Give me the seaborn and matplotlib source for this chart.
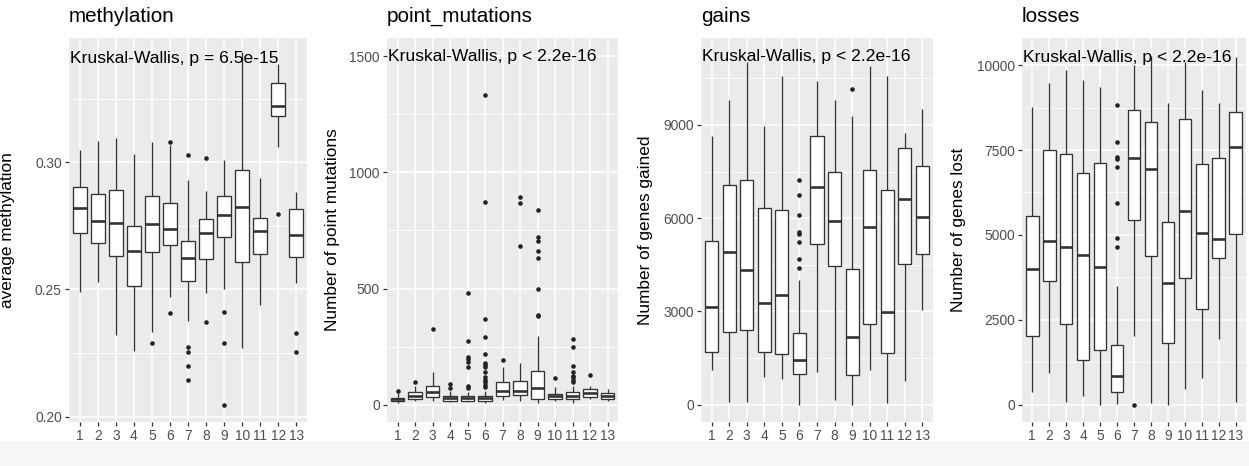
import numpy as np
import pandas as pd
import matplotlib
matplotlib.use("Agg")
import matplotlib.pyplot as plt
import matplotlib.transforms as mtransforms
from matplotlib.patches import Rectangle
import seaborn as sns

plt.rcParams['font.family'] = ['Liberation Sans', 'DejaVu Sans']

clusters = [str(i) for i in range(1, 14)]

# ---------------- methylation ----------------
meth_low = [0.2491, 0.2530, 0.2320, 0.2258, 0.2333, 0.2471, 0.2377, 0.2484, 0.2500, 0.2271, 0.2438, 0.3060, 0.2526]
meth_q1 = [0.2720, 0.2681, 0.2633, 0.2513, 0.2648, 0.2675, 0.2533, 0.2620, 0.2706, 0.2607, 0.2638, 0.3183, 0.2628]
meth_med = [0.2821, 0.2769, 0.2760, 0.2651, 0.2757, 0.2739, 0.2622, 0.2723, 0.2794, 0.2823, 0.2730, 0.3220, 0.2712]
meth_q3 = [0.2902, 0.2875, 0.2891, 0.2749, 0.2867, 0.2839, 0.2692, 0.2775, 0.2867, 0.2971, 0.2780, 0.3312, 0.2815]
meth_high = [0.3049, 0.3085, 0.3094, 0.3033, 0.3081, 0.3068, 0.2930, 0.2886, 0.3009, 0.3434, 0.2936, 0.3384, 0.2881]
meth_out_cluster = ['5', '6', '6', '7', '7', '7', '7', '7', '8', '8', '9', '9', '9', '12', '13', '13']
meth_out_value = [0.2290, 0.3080, 0.2408, 0.3027, 0.2273, 0.2255, 0.2198, 0.2143,
                  0.3017, 0.2372, 0.2411, 0.2288, 0.2046, 0.2797, 0.2329, 0.2255]

# ---------------- point mutations ----------------
pm_low = [5, 14, 17, 10, 10, 6, 20, 17, 6, 17, 7, 24, 17]
pm_q1 = [15, 24, 34, 17, 17, 14, 39, 43, 24, 24, 24, 32, 24]
pm_med = [22, 39, 56, 27, 27, 27, 60, 60, 72, 36, 39, 49, 39]
pm_q3 = [30, 53, 78, 36, 36, 36, 96, 101, 144, 46, 53, 68, 49]
pm_high = [50, 80, 142, 60, 53, 60, 161, 178, 297, 75, 78, 78, 68]
pm_out_cluster = (['1', '2', '3', '4', '4'] + ['5'] * 8 + ['6'] * 14 + ['7'] + ['8'] * 3
                  + ['9'] * 8 + ['10'] + ['11'] * 8 + ['12'])
pm_out_value = ([60, 99, 326, 89, 72]
                + [481, 272, 207, 197, 185, 164, 82, 72]
                + [1335, 872, 369, 293, 218, 178, 171, 161, 139, 118, 106, 96, 86, 75]
                + [193]
                + [894, 868, 685]
                + [836, 721, 703, 661, 631, 499, 388, 381]
                + [115]
                + [283, 247, 168, 139, 125, 118, 106, 96]
                + [128])

# ---------------- gains ----------------
gain_low = [1129, 97, 97, 882, 828, 0, 1054, 151, 0, 1129, 43, 774, 3053]
gain_q1 = [1709, 2333, 2387, 1709, 1634, 989, 5160, 4461, 957, 2602, 1666, 4537, 4838]
gain_med = [3139, 4913, 4322, 3268, 3515, 1441, 7015, 5913, 2172, 5719, 2978, 6633, 6042]
gain_q3 = [5268, 7063, 7224, 6332, 6257, 2301, 8655, 7493, 4375, 7547, 6902, 8267, 7676]
gain_high = [8643, 9804, 11040, 8966, 10578, 4021, 10428, 9804, 9288, 10900, 10578, 8750, 9514]
gain_out_cluster = ['6'] * 8 + ['9']
gain_out_value = [7224, 6751, 6117, 5558, 5483, 5236, 4698, 4408, 10148]

# ---------------- losses ----------------
loss_low = [380, 927, 88, 263, 0, 20, 2020, 49, 0, 459, 800, 1922, 88]
loss_q1 = [2020, 3649, 2380, 1307, 1600, 380, 5434, 4380, 1805, 3727, 2819, 4312, 5024]
loss_med = [4000, 4829, 4654, 4410, 4068, 849, 7268, 6946, 3580, 5707, 5063, 4868, 7580]
loss_q3 = [5551, 7502, 7385, 6829, 7112, 1746, 8683, 8312, 5366, 8429, 7092, 7268, 8634]
loss_high = [8780, 9483, 9854, 9551, 9356, 3502, 10000, 10260, 8897, 10100, 9258, 8897, 10234]
loss_out_cluster = ['6'] * 8 + ['7']
loss_out_value = [8829, 7727, 7307, 7239, 6995, 5941, 4898, 4654, 0]

titles = ["methylation", "point_mutations", "gains", "losses"]
ylabels = ["average methylation", "Number of point mutations",
           "Number of genes gained", "Number of genes lost"]
stat_labels = ["Kruskal-Wallis, p = 6.5e-15", "Kruskal-Wallis, p < 2.2e-16",
               "Kruskal-Wallis, p < 2.2e-16", "Kruskal-Wallis, p < 2.2e-16"]
stat_label_y = [0.3409, 1500, 11190, 10215]
yticks = [[0.20, 0.25, 0.30], [0, 500, 1000, 1500], [0, 3000, 6000, 9000],
          [0, 2500, 5000, 7500, 10000]]
yticklabels = [["0.20", "0.25", "0.30"], ["0", "500", "1000", "1500"],
               ["0", "3000", "6000", "9000"], ["0", "2500", "5000", "7500", "10000"]]
yminor = [[0.225, 0.275, 0.325], [250, 750, 1250], [1500, 4500, 7500, 10500],
          [1250, 3750, 6250, 8750]]
ylims = [(0.1979, 0.3488), (-75, 1579), (-560, 11800), (-510, 10800)]

panels = [
    (meth_low, meth_q1, meth_med, meth_q3, meth_high, meth_out_cluster, meth_out_value),
    (pm_low, pm_q1, pm_med, pm_q3, pm_high, pm_out_cluster, pm_out_value),
    (gain_low, gain_q1, gain_med, gain_q3, gain_high, gain_out_cluster, gain_out_value),
    (loss_low, loss_q1, loss_med, loss_q3, loss_high, loss_out_cluster, loss_out_value),
]

W, H = 1249, 466
fig = plt.figure(figsize=(W / 100, H / 100), dpi=100)
fig.patches.append(Rectangle((0, 0), 1, 25 / H, transform=fig.transFigure,
                             facecolor='#f7f7f7', edgecolor='none', zorder=0))

# panel pixel extents (left, right), top=38, bottom=422
extents = [(69, 307), (387, 618), (701, 933), (1022, 1246)]
ylabel_right_px = [15, 340, 653, 966]
top_px, bot_px = 38, 422

for k, (ext, data) in enumerate(zip(extents, panels)):
    l, r = ext
    ax = fig.add_axes([l / W, (H - bot_px) / H, (r - l) / W, (bot_px - top_px) / H])
    low, q1, med, q3, high, oc, ov = data
    rows = []
    for i, c in enumerate(clusters):
        for v in (low[i], q1[i], med[i], q3[i], high[i]):
            rows.append((c, v))
    df = pd.DataFrame(rows, columns=['cluster', 'value'])
    out_df = pd.DataFrame({'cluster': oc, 'value': ov})

    ax.set_facecolor('#EBEBEB')
    ax.set_axisbelow(True)
    sns.boxplot(data=df, x='cluster', y='value', order=clusters, ax=ax,
                whis=np.inf, showfliers=False, showcaps=False, width=0.75,
                color='white', saturation=1, linecolor='#333333', linewidth=0.95,
                medianprops={'linewidth': 1.9, 'color': '#333333'}, zorder=3)
    sns.stripplot(data=out_df, x='cluster', y='value', order=clusters, ax=ax,
                  jitter=False, color='#222222', size=3.3, linewidth=0, zorder=4)

    ax.set_xlim(-0.6, 12.6)
    ax.set_ylim(*ylims[k])
    ax.set_yticks(yticks[k])
    ax.set_yticklabels(yticklabels[k])
    ax.set_yticks(yminor[k], minor=True)
    ax.grid(True, which='major', axis='both', color='white', linewidth=1.1, zorder=0)
    ax.yaxis.grid(True, which='minor', color='white', linewidth=0.55, zorder=0)
    ax.xaxis.grid(True, which='major', color='white', linewidth=1.1, zorder=0)
    for s in ax.spines.values():
        s.set_visible(False)
    ax.tick_params(axis='both', which='major', length=3.2, width=0.9, color='#333333',
                   labelcolor='#4D4D4D', labelsize=9.9, pad=2)
    ax.tick_params(axis='y', which='minor', length=0)

    ax.set_xlabel('cluster', fontsize=12.4, color='black')
    ax.xaxis.set_label_coords(0.5, -0.054)
    ax.xaxis.label.set_va('top')
    ax.set_ylabel(ylabels[k], fontsize=12.4, color='black')
    ax.yaxis.set_label_coords((ylabel_right_px[k] - l) / (r - l), 0.5)

    ax.text(0.0, 1 + 16 / (bot_px - top_px), titles[k], transform=ax.transAxes,
            ha='left', va='baseline', fontsize=14.9, color='black')
    trans = mtransforms.blended_transform_factory(ax.transAxes, ax.transData)
    ax.text(0.003, stat_label_y[k], stat_labels[k], transform=trans, ha='left',
            va='center', fontsize=12.6, color='black', zorder=6)

fig.savefig('out.png', dpi=100)
